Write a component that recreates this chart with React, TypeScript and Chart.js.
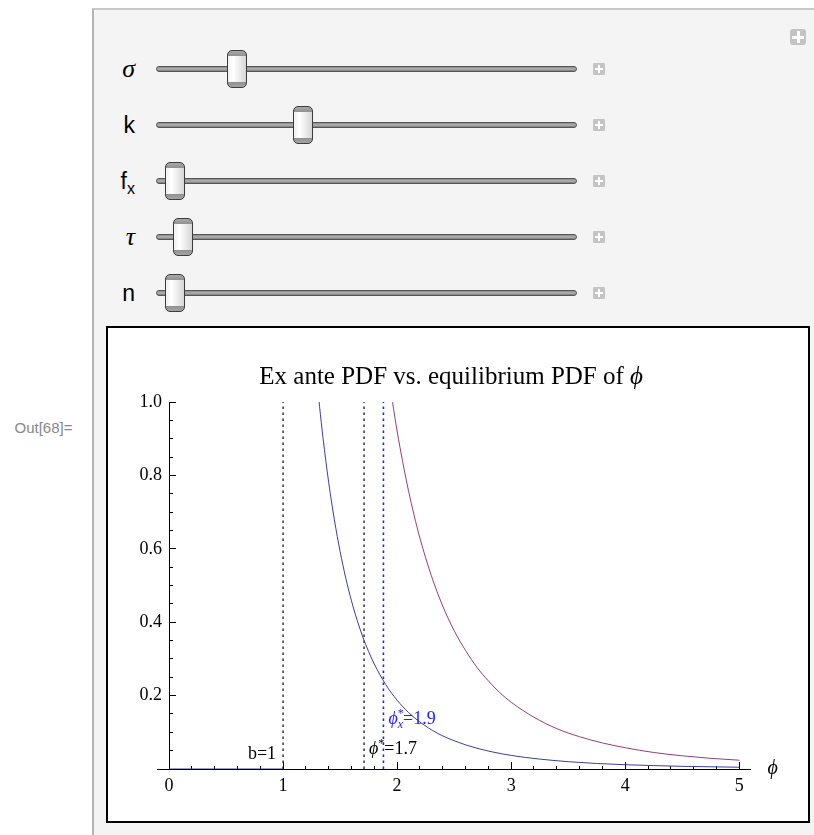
import React, { useEffect, useRef } from "react";
import { Chart, registerables } from "chart.js";

Chart.register(...registerables);

// ---------------- data ----------------
const X_TICKS = [0, 1, 2, 3, 4, 5];
const Y_TICKS = [0.2, 0.4, 0.6, 0.8, 1.0];
const X_MINOR_STEP = 0.2;
const Y_MINOR_STEP = 0.05;

// ex ante PDF (blue), zero below b = 1
const PHI_BELOW_B = [0, 1];
const PDF_BELOW_B = [0, 0];
const PHI_EX_ANTE = [1.3, 1.32, 1.35, 1.4, 1.45, 1.5, 1.55, 1.6, 1.65, 1.7, 1.75, 1.8, 1.9, 2.0, 2.1, 2.2, 2.35, 2.5, 2.7, 3.0, 3.25, 3.5, 3.75, 4.0, 4.5, 5.0];
const PDF_EX_ANTE = [1.05, 0.988, 0.903, 0.781, 0.679, 0.593, 0.52, 0.458, 0.405, 0.359, 0.32, 0.286, 0.23, 0.1875, 0.154, 0.128, 0.098, 0.077, 0.0565, 0.037, 0.027, 0.02, 0.015, 0.0117, 0.0073, 0.0048];

// equilibrium PDF (purple)
const PHI_EQUIL = [1.94, 1.96, 2.0, 2.05, 2.1, 2.15, 2.2, 2.3, 2.4, 2.5, 2.6, 2.7, 2.8, 2.9, 3.0, 3.2, 3.4, 3.6, 3.8, 4.0, 4.25, 4.5, 4.75, 5.0];
const PDF_EQUIL = [1.041, 0.999, 0.921, 0.835, 0.758, 0.69, 0.629, 0.527, 0.444, 0.377, 0.323, 0.277, 0.24, 0.208, 0.182, 0.141, 0.11, 0.088, 0.071, 0.058, 0.045, 0.036, 0.029, 0.024];

// vertical reference lines
const CUTOFF_PHI = [1, 1.71, 1.88];
const CUTOFF_SPAN = [0, 1];
const CUTOFF_NAMES = ["b", "phiStar", "phiStarX"];

// annotation values (label text and the data height where it sits)
const LABEL_B = "b=1";
const LABEL_B_Y = 0.044;
const LABEL_PHI_STAR_VALUE = "=1.7";
const LABEL_PHI_STAR_Y = 0.056;
const LABEL_PHI_X_VALUE = "=1.9";
const LABEL_PHI_X_Y = 0.138;

const TITLE_MAIN = "Ex ante PDF vs. equilibrium PDF of ";
const PHI = "\u03D5";

const SLIDER_LABELS = ["σ", "k", "f", "τ", "n"];

// ---------------- styling ----------------
const SERIF = '"Liberation Serif", "Times New Roman", serif';
const SANS = '"Liberation Sans", Arial, sans-serif';
const BLUE_CURVE = "#3d3d99";
const PURPLE_CURVE = "#993d71";
const BLUE_TEXT = "#1f1fff";

const pts = (xs: number[], ys: (number | null)[]) => xs.map((x, i) => ({ x, y: ys[i] }));

const near = (v: number, list: number[]) => list.some((t) => Math.abs(t - v) < 1e-6);

type Run = { t: string; font: string; dy?: number; adv?: boolean };

function drawRuns(ctx: CanvasRenderingContext2D, runs: Run[], x: number, baseline: number, align: "left" | "right" | "center", color: string) {
  ctx.fillStyle = color;
  ctx.textBaseline = "alphabetic";
  ctx.textAlign = "left";
  const widths = runs.map((r) => {
    ctx.font = r.font;
    return r.adv === false ? 0 : ctx.measureText(r.t).width;
  });
  const total = widths.reduce((a, b) => a + b, 0);
  let cx = align === "left" ? x : align === "right" ? x - total : x - total / 2;
  runs.forEach((r, i) => {
    ctx.font = r.font;
    ctx.fillText(r.t, cx, baseline + (r.dy || 0));
    cx += widths[i];
  });
}

const textPlugin = {
  id: "mmaText",
  afterDraw(chart: any) {
    const { ctx, chartArea, scales } = chart;
    const xs = scales.x;
    const ys = scales.y;
    ctx.save();
    // y tick labels, placed left of the y axis (which sits at x = 0)
    ctx.font = `18px ${SERIF}`;
    ctx.fillStyle = "#000";
    ctx.textAlign = "right";
    ctx.textBaseline = "middle";
    const axisX = xs.getPixelForValue(0);
    Y_TICKS.forEach((v) => {
      ctx.fillText(v.toFixed(1), axisX - 7, ys.getPixelForValue(v));
    });
    // title
    drawRuns(
      ctx,
      [
        { t: TITLE_MAIN, font: `25px ${SERIF}` },
        { t: PHI, font: `italic 25px ${SERIF}` },
      ],
      (chartArea.left + chartArea.right) / 2 - 3,
      chartArea.top - 18,
      "center",
      "#000"
    );
    // b=1
    drawRuns(ctx, [{ t: LABEL_B, font: `18px ${SERIF}` }], xs.getPixelForValue(CUTOFF_PHI[0]) - 7, ys.getPixelForValue(LABEL_B_Y) + 6, "right", "#000");
    // phi* = 1.7
    drawRuns(
      ctx,
      [
        { t: PHI, font: `italic 18px ${SERIF}` },
        { t: "*", font: `12px ${SERIF}`, dy: -7 },
        { t: LABEL_PHI_STAR_VALUE, font: `18px ${SERIF}` },
      ],
      xs.getPixelForValue(CUTOFF_PHI[1]) + 5,
      ys.getPixelForValue(LABEL_PHI_STAR_Y) + 6,
      "left",
      "#000"
    );
    // phi_x* = 1.9
    drawRuns(
      ctx,
      [
        { t: PHI, font: `italic 18px ${SERIF}` },
        { t: "*", font: `12px ${SERIF}`, dy: -7, adv: false },
        { t: "x", font: `italic 12px ${SERIF}`, dy: 4 },
        { t: LABEL_PHI_X_VALUE, font: `18px ${SERIF}` },
      ],
      xs.getPixelForValue(CUTOFF_PHI[2]) + 5,
      ys.getPixelForValue(LABEL_PHI_X_Y) + 6,
      "left",
      BLUE_TEXT
    );
    // axis label
    drawRuns(ctx, [{ t: PHI, font: `italic 20px ${SERIF}` }], chartArea.right + 22, ys.getPixelForValue(0) + 5, "center", "#000");
    ctx.restore();
  },
};

function makeTicks(min: number, max: number, step: number) {
  const out: { value: number }[] = [];
  const n = Math.round((max - min) / step);
  for (let i = 0; i <= n; i++) out.push({ value: +(min + i * step).toFixed(4) });
  return out;
}

function ChartBox() {
  const ref = useRef<HTMLCanvasElement>(null);
  useEffect(() => {
    const cv = ref.current!;
    const cutoffColors = ["#000", "#000", "#1f1fff"];
    const cutoffWidths = [1.2, 1.2, 1.6];
    const datasets: any[] = [
      {
        label: "ex ante PDF",
        data: pts(PHI_EX_ANTE, PDF_EX_ANTE),
        borderColor: BLUE_CURVE,
        borderWidth: 1,
        showLine: true,
        pointRadius: 0,
        cubicInterpolationMode: "monotone",
      },
      {
        label: "ex ante PDF below b",
        data: pts(PHI_BELOW_B, PDF_BELOW_B),
        borderColor: BLUE_CURVE,
        borderWidth: 1,
        showLine: true,
        pointRadius: 0,
      },
      {
        label: "equilibrium PDF",
        data: pts(PHI_EQUIL, PDF_EQUIL),
        borderColor: PURPLE_CURVE,
        borderWidth: 1,
        showLine: true,
        pointRadius: 0,
        cubicInterpolationMode: "monotone",
      },
      ...CUTOFF_PHI.map((c, i) => ({
        label: CUTOFF_NAMES[i],
        data: CUTOFF_SPAN.map((y) => ({ x: c, y })),
        borderColor: cutoffColors[i],
        borderWidth: cutoffWidths[i],
        borderDash: [2.5, 3.5],
        showLine: true,
        pointRadius: 0,
      })),
    ];

    const gridCfg = (major: number[], len: number) => ({
      display: true,
      drawOnChartArea: false,
      drawTicks: true,
      tickLength: -len,
      tickWidth: 1,
      tickColor: "#000",
      tickBorderDash: (ctx: any) => (ctx.tick && near(ctx.tick.value, major) ? [] : [4, 100]),
    });

    const chart = new Chart(cv, {
      type: "scatter",
      data: { datasets },
      options: {
        animation: false,
        responsive: false,
        maintainAspectRatio: false,
        layout: { padding: { left: 49.6, right: 57.3, top: 74, bottom: 22 } },
        plugins: {
          legend: { display: false },
          tooltip: { enabled: false },
          title: { display: false },
        },
        elements: { point: { radius: 0 } },
        scales: {
          x: {
            type: "linear",
            position: "bottom",
            min: -0.1,
            max: 5.1,
            afterBuildTicks: (s: any) => {
              s.ticks = makeTicks(X_TICKS[0], X_TICKS[X_TICKS.length - 1], X_MINOR_STEP);
            },
            afterFit: (s: any) => {
              s.height = 30;
            },
            grid: gridCfg(X_TICKS, 7) as any,
            border: { display: true, color: "#000", width: 1 },
            ticks: {
              autoSkip: false,
              maxRotation: 0,
              padding: 13,
              color: "#000",
              font: { family: SERIF, size: 18 },
              callback: (v: any) => (near(Number(v), X_TICKS) ? String(Math.round(Number(v))) : ""),
            },
          },
          y: {
            type: "linear",
            position: { x: 0 } as any,
            min: 0,
            max: 1,
            afterBuildTicks: (s: any) => {
              s.ticks = makeTicks(Y_MINOR_STEP, Y_TICKS[Y_TICKS.length - 1], Y_MINOR_STEP);
            },
            grid: gridCfg(Y_TICKS, 7) as any,
            border: { display: true, color: "#000", width: 1 },
            ticks: {
              display: false,
              autoSkip: false,
              color: "#000",
              font: { family: SERIF, size: 18 },
              callback: (v: any) => (near(Number(v), Y_TICKS) ? Number(v).toFixed(1) : ""),
            },
          },
        },
      } as any,
      plugins: [textPlugin],
    });
    return () => chart.destroy();
  }, []);
  return <canvas ref={ref} width={700} height={493} style={{ position: "absolute", left: 108, top: 328, width: 700, height: 493 }} />;
}

function PlusIcon({ left, top, size, bar }: { left: number; top: number; size: number; bar: number }) {
  const arm = size - 4;
  return (
    <div style={{ position: "absolute", left, top, width: size, height: size, background: "#c4c4c4", borderRadius: size > 13 ? 3 : 1 }}>
      <div style={{ position: "absolute", left: (size - arm) / 2, top: (size - bar) / 2, width: arm, height: bar, background: "#fff" }} />
      <div style={{ position: "absolute", left: (size - bar) / 2, top: (size - arm) / 2, width: bar, height: arm, background: "#fff" }} />
    </div>
  );
}

const KNOB_X = [236.5, 303, 175, 183, 175];

function Slider({ idx }: { idx: number }) {
  const cy = 69 + idx * 56;
  const label = SLIDER_LABELS[idx];
  const greek = label === "σ" || label === "τ";
  return (
    <>
      <div
        style={{
          position: "absolute",
          left: 95,
          width: 40,
          top: cy - 20,
          height: 40,
          lineHeight: "40px",
          textAlign: "right",
          fontFamily: greek ? SERIF : SANS,
          fontStyle: greek ? "italic" : "normal",
          fontSize: greek ? 26 : 23,
          color: "#000",
        }}
      >
        {label}
        {label === "f" ? <sub style={{ fontSize: 16, verticalAlign: "-5px" }}>x</sub> : null}
      </div>
      <div
        style={{
          position: "absolute",
          left: 156,
          top: cy - 3,
          width: 421,
          height: 6,
          boxSizing: "border-box",
          borderRadius: 3,
          border: "1px solid #555",
          background: "linear-gradient(to bottom, #8a8a8a, #b4b4b4 50%, #7a7a7a)",
        }}
      />
      <div
        style={{
          position: "absolute",
          left: KNOB_X[idx] - 10,
          top: cy - 19,
          width: 20,
          height: 38,
          boxSizing: "border-box",
          border: "1px solid #3c3c3c",
          borderRadius: 5,
          background:
            "linear-gradient(to bottom, #a8a8a8 0px, #909090 5px, rgba(0,0,0,0) 5px, rgba(0,0,0,0) 31px, #909090 31px, #a4a4a4 100%), linear-gradient(to right, #f0f0f0 0%, #ffffff 30%, #d6d6d6 100%)",
        }}
      />
      <PlusIcon left={593} top={cy - 6} size={12} bar={2} />
    </>
  );
}

export default function App() {
  return (
    <div style={{ position: "absolute", left: 0, top: 0, width: 814, height: 835, overflow: "hidden", background: "#fff" }}>
      <div
        style={{
          position: "absolute",
          left: 0,
          width: 87,
          top: 419,
          height: 18,
          lineHeight: "18px",
          textAlign: "center",
          fontFamily: SANS,
          fontSize: 15,
          color: "#888",
        }}
      >
        Out[68]=
      </div>
      <div
        style={{
          position: "absolute",
          left: 92,
          top: 8,
          width: 760,
          height: 900,
          boxSizing: "border-box",
          borderLeft: "2px solid #b5b5b5",
          borderTop: "2px solid #c8c8c8",
          background: "#f4f4f4",
        }}
      />
      <PlusIcon left={790} top={29} size={16} bar={3} />
      {SLIDER_LABELS.map((_, i) => (
        <Slider key={i} idx={i} />
      ))}
      <div
        style={{
          position: "absolute",
          left: 106,
          top: 326,
          width: 704,
          height: 497,
          boxSizing: "border-box",
          border: "2px solid #000",
          background: "#fff",
        }}
      />
      <ChartBox />
    </div>
  );
}
